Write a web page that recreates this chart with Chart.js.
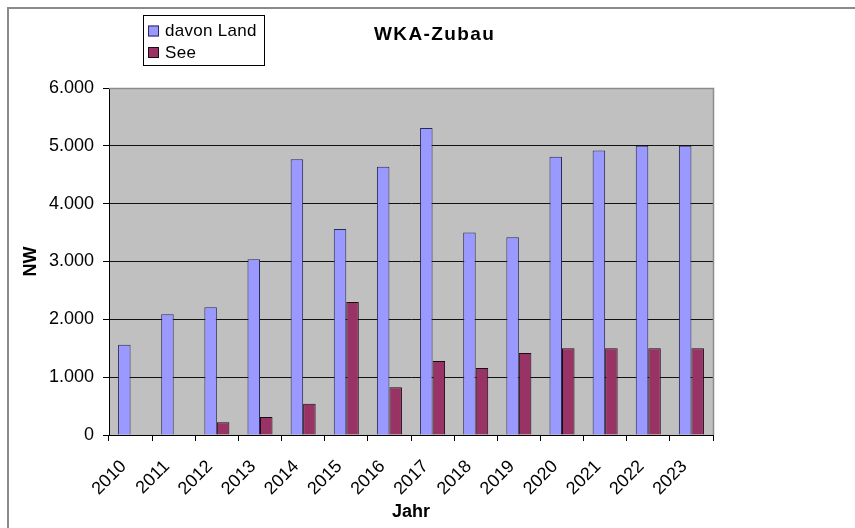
<!DOCTYPE html>
<html>
<head>
<meta charset="utf-8">
<script src="https://cdn.jsdelivr.net/npm/chart.js@4/dist/chart.umd.min.js"></script>
<style>
  html, body { margin: 0; padding: 0; background: #fff; }
  #wrap { position: relative; width: 855px; height: 528px; overflow: hidden; }
  #frame { position: absolute; left: 7px; top: 7px; right: -10px; bottom: -10px;
           border-top: 2px solid #8a8a8a; border-left: 2px solid #8a8a8a; }
  canvas { position: absolute; left: 0; top: 0; }
</style>
</head>
<body>
<div id="wrap">
  <div id="frame"></div>
  <canvas id="chart" width="855" height="528"></canvas>
</div>
<script>
// Daten
const chartTitle = 'WKA-Zubau';
const years = ['2010', '2011', '2012', '2013', '2014', '2015', '2016', '2017', '2018', '2019', '2020', '2021', '2022', '2023'];
const landValues = [1560, 2090, 2210, 3040, 4770, 3560, 4640, 5310, 3500, 3420, 4810, 4920, 5000, 5000];
const seeValues = [null, null, 220, 310, 540, 2300, 825, 1280, 1160, 1420, 1500, 1500, 1500, 1500];
const seriesNames = ['davon Land', 'See'];
const yTicks = [0, 1000, 2000, 3000, 4000, 5000, 6000];

const FONT = 'Arial, "Liberation Sans", sans-serif';

function fmt(v) {
    // deutsche Tausendertrennung
    return String(v).replace(/\B(?=(\d{3})+(?!\d))/g, '.');
}

// grauer Plotbereich + Rahmen oben/rechts
const plotBg = {
    id: 'plotBg',
    beforeDraw(chart) {
        const { ctx, chartArea: a } = chart;
        ctx.save();
        ctx.fillStyle = '#c0c0c0';
        ctx.fillRect(a.left, a.top, a.right - a.left, a.bottom - a.top);
        ctx.restore();
    },
    afterDatasetsDraw(chart) {
        const { ctx, chartArea: a } = chart;
        ctx.save();
        ctx.strokeStyle = '#8c8c8c';
        ctx.lineWidth = 1.5;
        ctx.beginPath();
        ctx.moveTo(a.left, a.top + 0.5);
        ctx.lineTo(a.right + 0.5, a.top + 0.5);
        ctx.lineTo(a.right + 0.5, a.bottom);
        ctx.stroke();
        ctx.restore();
    }
};

// Titel und Legende an fester Stelle
const titleLegend = {
    id: 'titleLegend',
    afterDraw(chart) {
        const ctx = chart.ctx;
        ctx.save();
        ctx.fillStyle = '#000';
        ctx.font = 'bold 19px ' + FONT;
        ctx.letterSpacing = '1.4px';
        ctx.textAlign = 'left';
        ctx.textBaseline = 'middle';
        ctx.fillText(chartTitle, 374, 35);
        ctx.letterSpacing = '0px';

        // Legendenrahmen
        ctx.strokeStyle = '#000';
        ctx.lineWidth = 1;
        ctx.strokeRect(143.5, 15.5, 121, 50);
        ctx.font = '17px ' + FONT;
        ctx.letterSpacing = '0.3px';
        chart.data.datasets.forEach((ds, i) => {
            const y = 31 + i * 21.5;
            ctx.fillStyle = ds.backgroundColor;
            ctx.fillRect(148, y - 5.5, 11, 11);
            ctx.strokeStyle = ds.borderColor;
            ctx.strokeRect(148.5, y - 5, 10, 10);
            ctx.fillStyle = '#000';
            ctx.fillText(ds.label, 165, y + 0.5);
        });
        ctx.restore();
    }
};

new Chart(document.getElementById('chart'), {
    type: 'bar',
    data: {
        labels: years,
        datasets: [
            {
                label: seriesNames[0],
                data: landValues,
                backgroundColor: '#9999ff',
                borderColor: '#2a2a58',
                borderWidth: 1,
                categoryPercentage: 0.58,
                barPercentage: 1
            },
            {
                label: seriesNames[1],
                data: seeValues,
                backgroundColor: '#993366',
                borderColor: '#1a0a12',
                borderWidth: 1,
                categoryPercentage: 0.58,
                barPercentage: 1
            }
        ]
    },
    options: {
        responsive: false,
        animation: false,
        layout: { padding: { top: 88, right: 142, left: 0, bottom: 0 } },
        plugins: {
            legend: { display: false },
            title: { display: false },
            tooltip: { enabled: false }
        },
        scales: {
            x: {
                offset: true,
                grid: { offset: true, drawOnChartArea: false, drawTicks: true, tickLength: 6, color: '#000' },
                border: { display: true, color: '#000', width: 1 },
                ticks: {
                    autoSkip: false,
                    minRotation: 45,
                    maxRotation: 45,
                    padding: 15,
                    labelOffset: -7,
                    color: '#000',
                    font: { family: FONT, size: 18 }
                },
                title: {
                    display: true,
                    text: 'Jahr',
                    color: '#000',
                    font: { family: FONT, size: 18, weight: 'bold' },
                    padding: { top: 0, bottom: 5 }
                },
                afterFit(scale) { scale.height = 93; }
            },
            y: {
                min: 0,
                max: 6000,
                afterBuildTicks(scale) { scale.ticks = yTicks.map(v => ({ value: v })); },
                grid: {
                    color: ctx => (ctx.tick && ctx.tick.value === 6000) ? 'rgba(0,0,0,0)' : '#111',
                    tickColor: '#000',
                    tickLength: 6,
                    lineWidth: 1
                },
                border: { display: true, color: '#000', width: 1 },
                ticks: {
                    padding: 9,
                    color: '#000',
                    font: { family: FONT, size: 18 },
                    callback: v => fmt(v)
                },
                title: {
                    display: true,
                    text: 'NW',
                    color: '#000',
                    font: { family: FONT, size: 18, weight: 'bold' },
                    padding: { top: 20, bottom: 0 }
                },
                afterFit(scale) { scale.width = 109; }
            }
        }
    },
    plugins: [plotBg, titleLegend]
});
</script>
</body>
</html>
